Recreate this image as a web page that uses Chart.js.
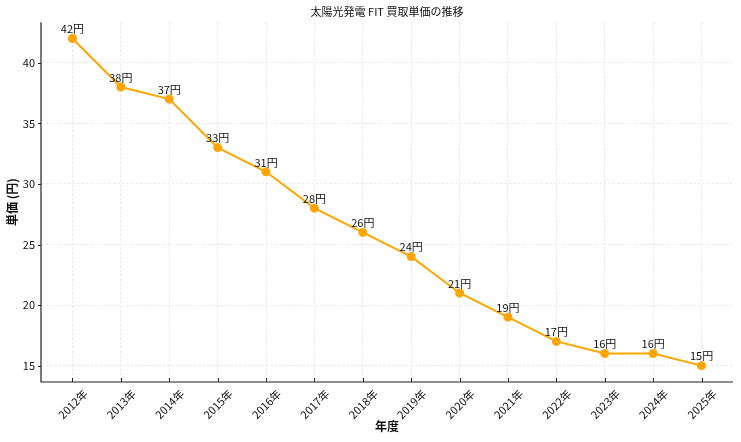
<!DOCTYPE html>
<html>
<head>
<meta charset="utf-8">
<script src="https://cdn.jsdelivr.net/npm/chart.js@4.4.1/dist/chart.umd.min.js"></script>
<style>
  html, body { margin: 0; padding: 0; background: #fff; }
  #wrap { width: 741px; height: 442px; }
</style>
</head>
<body>
<div id="wrap"><canvas id="fit-chart" width="741" height="442"></canvas></div>
<script>
    "use strict";

    // data
    const years = [2012, 2013, 2014, 2015, 2016, 2017, 2018, 2019, 2020, 2021, 2022, 2023, 2024, 2025];
    const prices = [42, 38, 37, 33, 31, 28, 26, 24, 21, 19, 17, 16, 16, 15];
    const yTicks = [15, 20, 25, 30, 35, 40];

    const FONT = "'Noto Sans CJK JP', 'Noto Sans', sans-serif";
    const LINE = '#FFA500';
    const AXIS = '#222222';
    const GRID = '#e2e2e2';
    const TEXT = '#111111';

    // matplotlib-like 5% margins
    const xPad = (years[years.length - 1] - years[0]) * 0.05;
    const yMin = Math.min(...prices), yMax = Math.max(...prices);
    const yPad = (yMax - yMin) * 0.05;

    // value labels above each point, axis spines + small tick marks
    const pointLabels = {
        id: 'pointLabels',
        afterDatasetsDraw(chart) {
            const ctx = chart.ctx;
            const meta = chart.getDatasetMeta(0);
            ctx.save();
            ctx.font = '11px ' + FONT;
            ctx.fillStyle = TEXT;
            ctx.textAlign = 'center';
            ctx.textBaseline = 'bottom';
            meta.data.forEach((pt, i) => {
                ctx.fillText(prices[i] + '円', pt.x, pt.y - 4);
            });
            ctx.restore();
        },
        afterDraw(chart) {
            const ctx = chart.ctx;
            const { x, y } = chart.scales;
            const area = chart.chartArea;
            ctx.save();
            ctx.strokeStyle = AXIS;
            ctx.lineWidth = 1.2;
            ctx.setLineDash([]);
            ctx.beginPath();
            ctx.moveTo(area.left, area.top);
            ctx.lineTo(area.left, area.bottom);
            ctx.lineTo(area.right, area.bottom);
            ctx.stroke();
            ctx.lineWidth = 1;
            ctx.beginPath();
            years.forEach(v => {
                const px = Math.round(x.getPixelForValue(v)) + 0.5;
                ctx.moveTo(px, area.bottom);
                ctx.lineTo(px, area.bottom - 4);
            });
            yTicks.forEach(v => {
                const py = Math.round(y.getPixelForValue(v)) + 0.5;
                ctx.moveTo(area.left - 3, py);
                ctx.lineTo(area.left, py);
            });
            ctx.stroke();
            ctx.restore();
        }
    };

    new Chart(document.getElementById('fit-chart').getContext('2d'), {
        type: 'line',
        data: {
            datasets: [{
                data: years.map((yr, i) => ({ x: yr, y: prices[i] })),
                borderColor: LINE,
                backgroundColor: LINE,
                borderWidth: 2,
                pointRadius: 3.5,
                pointHoverRadius: 3.5,
                tension: 0,
                fill: false
            }]
        },
        options: {
            responsive: false,
            animation: false,
            events: [],
            layout: { padding: { left: 0, right: 8, top: 0, bottom: 0 } },
            plugins: {
                legend: { display: false },
                tooltip: { enabled: false },
                title: {
                    display: true,
                    fullSize: false,
                    text: '太陽光発電 FIT 買取単価の推移',
                    color: TEXT,
                    font: { family: FONT, size: 11, weight: 'normal' },
                    padding: { top: 5, bottom: 4 }
                }
            },
            scales: {
                x: {
                    type: 'linear',
                    min: years[0] - xPad,
                    max: years[years.length - 1] + xPad,
                    afterBuildTicks: (s) => { s.ticks = years.map(v => ({ value: v })); },
                    afterFit: (s) => { s.height = 60; },
                    border: { display: false, dash: [2.5, 2] },
                    grid: { color: GRID, lineWidth: 0.8, drawTicks: false },
                    ticks: {
                        color: TEXT,
                        font: { family: FONT, size: 11 },
                        minRotation: 45,
                        maxRotation: 45,
                        padding: 5,
                        labelOffset: 13,
                        autoSkip: false,
                        callback: (v) => v + '年'
                    },
                    title: {
                        display: true,
                        text: '年度',
                        color: TEXT,
                        font: { family: FONT, size: 12, weight: 'bold' },
                        padding: { top: 0, bottom: 8 }
                    }
                },
                y: {
                    min: yMin - yPad,
                    max: yMax + yPad,
                    afterBuildTicks: (s) => { s.ticks = yTicks.map(v => ({ value: v })); },
                    afterFit: (s) => { s.width = 41; },
                    border: { display: false, dash: [2.5, 2] },
                    grid: { color: GRID, lineWidth: 0.8, drawTicks: false },
                    ticks: {
                        color: TEXT,
                        font: { family: FONT, size: 11 },
                        padding: 6
                    },
                    title: {
                        display: true,
                        text: '単価 (円)',
                        color: TEXT,
                        font: { family: FONT, size: 12, weight: 'bold' },
                        padding: { top: 5, bottom: 0 }
                    }
                }
            }
        },
        plugins: [pointLabels]
    });
</script>
</body>
</html>
